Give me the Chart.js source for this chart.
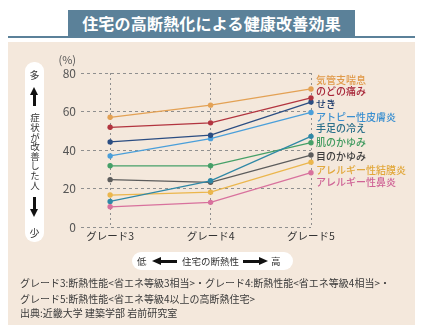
<!DOCTYPE html>
<html lang="ja">
<head>
<meta charset="utf-8">
<script src="https://cdn.jsdelivr.net/npm/chart.js@4"></script>
<style>
  html, body { margin:0; padding:0; background:#fff; }
  body { width:425px; height:330px; position:relative; overflow:hidden;
         font-family:"Noto Sans CJK JP","Noto Sans",sans-serif; }
  #panel { position:absolute; left:8px; top:42px; width:407px; height:283px; background:#f4e8dc; }
  #rule { position:absolute; left:8px; top:36px; width:407px; height:2px; background:#5b8199; }
  #banner { position:absolute; left:68px; top:10px; width:287px; height:27px; background:#5b8199;
            color:#fff; font-size:16px; font-weight:700; text-align:center; line-height:27px; letter-spacing:0.2px; }
  #chart { position:absolute; left:0; top:0; }
  .pill { position:absolute; background:#fff; }
  #side { left:25px; top:62px; width:19px; height:180px; border-radius:9px; }
  .sch { position:absolute; left:0; width:19px; text-align:center; font-size:10px; color:#333; line-height:12px; }
  #vtext { position:absolute; left:0; top:51px; width:19px; writing-mode:vertical-rl; font-size:9.5px;
           color:#333; line-height:19px; letter-spacing:0.1px; }
  .stemv { position:absolute; left:8px; width:3px; background:#111; }
  .tri-up { position:absolute; left:5px; width:0; height:0; border-left:4.5px solid transparent;
            border-right:4.5px solid transparent; border-bottom:8px solid #111; }
  .tri-down { position:absolute; left:5px; width:0; height:0; border-left:4.5px solid transparent;
            border-right:4.5px solid transparent; border-top:8px solid #111; }
  #bottom { left:132px; top:252px; width:161px; height:18px; border-radius:9px; }
  .bt { position:absolute; top:0; font-size:9.5px; color:#333; line-height:18px; }
  .stemh { position:absolute; top:7.5px; height:3px; background:#111; }
  .tri-left { position:absolute; top:5px; width:0; height:0; border-top:4px solid transparent;
              border-bottom:4px solid transparent; border-right:9px solid #111; }
  .tri-right { position:absolute; top:5px; width:0; height:0; border-top:4px solid transparent;
              border-bottom:4px solid transparent; border-left:9px solid #111; }
  .note { position:absolute; left:20px; font-size:10px; color:#3a3a3a; white-space:nowrap; line-height:12px; }
</style>
</head>
<body>
<div id="panel"></div>
<div id="rule"></div>
<div id="banner">住宅の高断熱化による健康改善効果</div>
<canvas id="chart" width="425" height="330"></canvas>

<div id="side" class="pill">
  <div class="sch" style="top:7px;">多</div>
  <div class="tri-up" style="top:25px;"></div>
  <div class="stemv" style="top:32px;height:12px;"></div>
  <div id="vtext">症状が改善した人</div>
  <div class="stemv" style="top:135px;height:12px;"></div>
  <div class="tri-down" style="top:147px;"></div>
  <div class="sch" style="top:165px;">少</div>
</div>

<div id="bottom" class="pill">
  <div class="bt" style="left:5px;">低</div>
  <div class="tri-left" style="left:20px;"></div>
  <div class="stemh" style="left:28px;width:17px;"></div>
  <div class="bt" style="left:50px;">住宅の断熱性</div>
  <div class="stemh" style="left:111px;width:17px;"></div>
  <div class="tri-right" style="left:127px;"></div>
  <div class="bt" style="left:139px;">高</div>
</div>

<div class="note" style="top:277px;">グレード3:断熱性能&lt;省エネ等級3相当&gt;・グレード4:断熱性能&lt;省エネ等級4相当&gt;・</div>
<div class="note" style="top:293px;">グレード5:断熱性能&lt;省エネ等級4以上の高断熱住宅&gt;</div>
<div class="note" style="top:307px;">出典:近畿大学 建築学部 岩前研究室</div>

<script>
// ---- data ----
const categories = ['グレード3', 'グレード4', 'グレード5'];
const gradeNums = [3, 4, 5];
const seriesNames = ['気管支喘息', 'のどの痛み', 'せき', 'アトピー性皮膚炎', '手足の冷え',
                     '肌のかゆみ', '目のかゆみ', 'アレルギー性結膜炎', 'アレルギー性鼻炎'];
const asthma      = [57.0, 63.3, 71.7];
const soreThroat  = [51.8, 54.1, 67.1];
const cough       = [44.2, 47.7, 64.9];
const atopic      = [36.9, 45.9, 59.5];
const coldHands   = [13.3, 24.0, 47.1];
const itchySkin   = [31.8, 31.8, 43.8];
const itchyEyes   = [24.6, 23.2, 37.4];
const conjunct    = [16.6, 18.1, 33.7];
const rhinitis    = [10.5, 12.8, 28.2];
const yTicks = [0, 20, 40, 60, 80];

const seriesValues = [asthma, soreThroat, cough, atopic, coldHands, itchySkin, itchyEyes, conjunct, rhinitis];
const lineColors  = ['#e3a154', '#b2343f', '#2b4d82', '#4a9fda', '#2f88a6', '#45a068', '#5c5c5c', '#ebb64c', '#d8719d'];
const labelColors = ['#e09a4a', '#a8283a', '#1f3d6e', '#3a8fd0', '#2b6f8a', '#3f9a5f', '#3d3d3d', '#e2a83c', '#cf6496'];
// label slots (in value units) so the names sit in a column at the right
const labelSlots = [76.5, 70.6, 63.9, 57.0, 51.3, 43.8, 36.9, 29.6, 23.5];

const datasets = seriesNames.map((name, i) => ({
  label: name,
  data: seriesValues[i].map((v, j) => ({ x: gradeNums[j], y: v })),
  borderColor: lineColors[i],
  backgroundColor: lineColors[i],
  pointBackgroundColor: lineColors[i],
  pointBorderWidth: 0,
  pointRadius: 2.7,
  borderWidth: 1.3,
  tension: 0,
  clip: false
}));

const rightLabels = {
  id: 'rightLabels',
  afterDatasetsDraw(chart) {
    const ctx = chart.ctx, ys = chart.scales.y, area = chart.chartArea;
    ctx.save();
    ctx.font = '500 10px "Noto Sans CJK JP"';
    ctx.textBaseline = 'middle';
    ctx.textAlign = 'left';
    seriesNames.forEach((n, i) => {
      ctx.fillStyle = labelColors[i];
      ctx.fillText(n, area.right + 5, ys.getPixelForValue(labelSlots[i]));
    });
    ctx.fillStyle = '#555';
    ctx.font = '11px "Noto Sans CJK JP"';
    ctx.textAlign = 'right';
    ctx.fillText('(%)', area.left - 5, area.top - 13);
    ctx.restore();
  }
};

new Chart(document.getElementById('chart'), {
  type: 'line',
  data: { datasets },
  options: {
    responsive: false,
    animation: false,
    devicePixelRatio: 1,
    layout: { padding: { left: 0, right: 114, top: 73, bottom: 83 } },
    plugins: { legend: { display: false }, tooltip: { enabled: false } },
    scales: {
      x: {
        type: 'linear',
        min: 2.71, max: 5,
        afterBuildTicks: (s) => { s.ticks = gradeNums.map(v => ({ value: v })); },
        afterFit: (s) => { s.height = 20; },
        ticks: {
          callback: (v) => categories[gradeNums.indexOf(v)],
          font: { family: 'Noto Sans CJK JP', size: 10.5 },
          color: '#333',
          padding: 3,
          maxRotation: 0
        },
        grid: { color: '#8f8f8f', lineWidth: 1, drawTicks: false },
        border: { display: false, dash: [2, 3] }
      },
      y: {
        min: 0, max: 80,
        afterBuildTicks: (s) => { s.ticks = yTicks.map(v => ({ value: v })); },
        afterFit: (s) => { s.width = 81; },
        ticks: {
          font: { family: 'Noto Sans CJK JP', size: 12 },
          color: '#555',
          padding: 5
        },
        grid: { color: '#8f8f8f', lineWidth: 1, drawTicks: false },
        border: { display: false, dash: [3, 3] }
      }
    }
  },
  plugins: [rightLabels]
});
</script>
</body>
</html>
